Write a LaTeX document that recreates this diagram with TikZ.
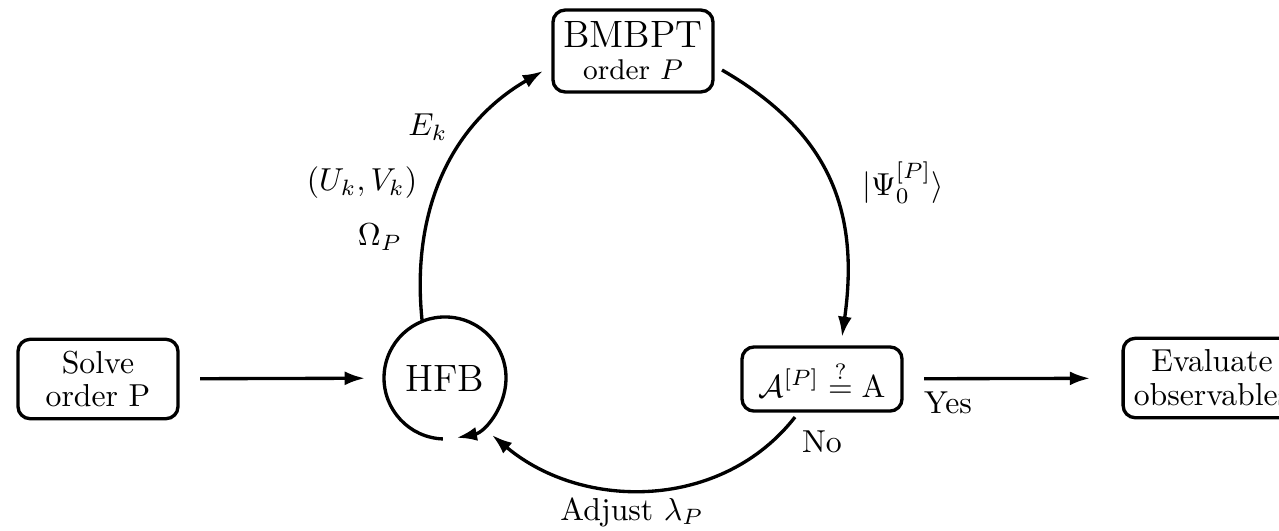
\documentclass[tikz,border=0pt]{standalone}
\usetikzlibrary{arrows.meta}
\begin{document}
\begin{tikzpicture}[x=0.315pt, y=0.315pt,
    every node/.style={inner sep=0pt, outer sep=0pt},
    box/.style={draw, line width=1.05pt, rounded corners=3.8pt,
                minimum width=50.4pt, align=center},
    hfbnode/.style={circle, minimum size=38.4pt},
    arr/.style={line width=1.05pt, -{Latex[length=6.4pt,width=4.4pt]}},
    lbl/.style={font=\normalsize}]
  \clip (0,0) rectangle (1279,-530);

  % process nodes
  \node[box, minimum height=25pt] (solve) at (98,-379) {Solve\\[-1.6pt]order P};
  \node[hfbnode] (hfb) at (445,-378) {\large HFB};
  \node[box, minimum height=25.8pt] (bmbpt) at (633,-51)
       {\large BMBPT\\[-2pt]\small order $P$};
  \node[box, minimum height=20.2pt] (acheck) at (822,-379)
       {$\mathcal{A}^{[P]} \stackrel{?}{=} \mathrm{A}$};
  \node[box, minimum height=25pt, minimum width=56pt] (eval) at (1212,-378)
       {Evaluate\\[-1.2pt]observables};

  % self loop drawn around the HFB node
  \draw[arr] (hfb.268) arc[start angle=268, end angle=-79, radius=61];

  % straight connectors
  \draw[arr, shorten <=7pt, shorten >=6pt] (solve) -- (hfb);
  \draw[arr, shorten <=7pt, shorten >=10.4pt] (acheck) -- (eval);

  % the iteration cycle
  \draw[arr] (hfb.112) to[out=96, in=210] ([shift={(-10,-20)}]bmbpt.west);
  \draw[arr] ([shift={(9,-19)}]bmbpt.east) to[out=-30, in=82, looseness=1.1]
             ([shift={(20,10)}]acheck.north);
  \draw[arr] ([shift={(-27,-6)}]acheck.south) to[out=-128, in=-40]
             ([shift={(47,-57)}]hfb.center);

  % labels
  \node[lbl] (ek) at (428,-127) {$E_k$};
  \node[lbl] (uv) at (362,-183) {$(U_k,V_k)$};
  \node[lbl] (om) at (380,-237) {$\Omega_P$};
  \node[lbl] (psi) at (903,-183) {$|\Psi_0^{[P]}\rangle$};
  \node[lbl] (yes) at (948,-403) {Yes};
  \node[lbl] (no) at (822,-442) {No};
  \node[lbl] (adj) at (632,-512) {Adjust $\lambda_P$};
\end{tikzpicture}
\end{document}
